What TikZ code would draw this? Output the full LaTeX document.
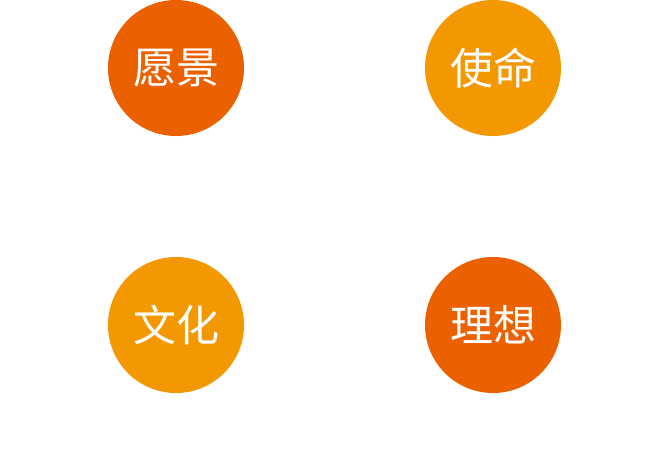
\documentclass[tikz,border=0pt]{standalone}
\usepackage{fontspec}
\usepackage{xcolor}
\newfontfamily\cjk{Noto Sans CJK SC}
\definecolor{darkorange}{HTML}{EB6100}
\definecolor{lightorange}{HTML}{F39800}

\begin{document}
\begin{tikzpicture}[x=1pt, y=-1pt,
    ball/.style={circle, minimum size=136pt, inner sep=0pt, text=white,
      font=\cjk\fontsize{43}{43}\selectfont}]
        \useasboundingbox (0,0) rectangle (665,467);

        \node[ball, fill=darkorange] (vision) at (176, 68) {愿景};
        \node[ball, fill=lightorange] (mission) at (493, 68) {使命};
        \node[ball, fill=lightorange] (culture) at (176, 325) {文化};
        \node[ball, fill=darkorange] (ideal) at (493, 325) {理想};
    \end{tikzpicture}
\end{document}
